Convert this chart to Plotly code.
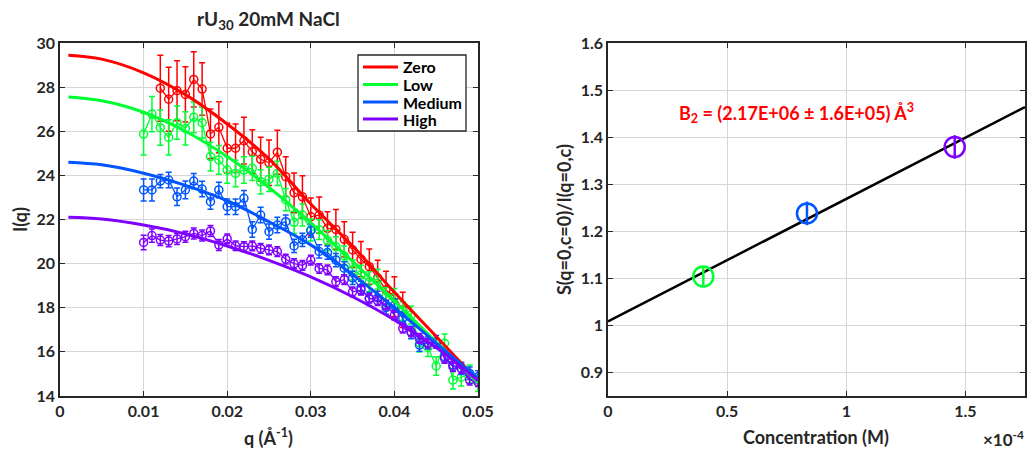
import plotly.graph_objects as go

# ---------------- Left panel data ----------------
q_data = [0.010, 0.011, 0.012, 0.013, 0.014, 0.015, 0.016, 0.017, 0.018, 0.019,
          0.020, 0.021, 0.022, 0.023, 0.024, 0.025, 0.026, 0.027, 0.028, 0.029,
          0.030, 0.031, 0.032, 0.033, 0.034, 0.035, 0.036, 0.037, 0.038, 0.039,
          0.040, 0.041, 0.042, 0.043, 0.044, 0.045, 0.046, 0.047, 0.048, 0.049, 0.050]

q_zero = [0.012, 0.013, 0.014, 0.015, 0.016, 0.017, 0.018, 0.019, 0.020, 0.021,
          0.022, 0.023, 0.024, 0.025, 0.026, 0.027, 0.028, 0.029, 0.030, 0.031,
          0.032, 0.033, 0.034, 0.035, 0.036, 0.037, 0.038, 0.039, 0.040, 0.041]
I_zero = [27.95, 27.45, 27.84, 27.67, 28.35, 27.91, 25.88, 26.18, 25.23, 25.23,
          25.57, 25.07, 24.73, 24.57, 25.05, 23.94, 23.21, 23.03, 22.12, 22.20,
          21.60, 21.55, 21.10, 20.62, 20.20, 19.86, 19.35, 18.80, 18.50, 17.90]
err_zero = [1.50, 1.45, 1.36, 1.25, 1.25, 1.19, 1.13, 1.16, 1.13, 1.10,
            1.06, 1.00, 1.00, 1.03, 1.00, 0.90, 0.90, 0.95, 0.86, 0.82,
            0.75, 0.90, 0.80, 0.80, 0.80, 0.80, 0.80, 0.85, 0.90, 0.80]

I_low = [25.87, 26.78, 26.16, 25.72, 26.39, 26.13, 26.63, 26.39, 24.85, 24.70,
         24.24, 24.09, 24.24, 24.32, 23.71, 23.82, 24.09, 22.90, 21.87, 22.20,
         21.52, 21.54, 21.05, 20.77, 20.35, 19.71, 19.48, 19.18, 19.30, 18.50,
         18.45, 17.85, 17.67, 16.41, 16.20, 15.36, 16.39, 14.72, 14.85, 15.00, 14.60]
err_low = [0.95, 0.80, 0.80, 0.80, 0.75, 0.75, 0.70, 0.70, 0.65, 0.65,
           0.60, 0.60, 0.60, 0.55, 0.55, 0.55, 0.55, 0.50, 0.50, 0.50,
           0.50, 0.45, 0.45, 0.45, 0.45, 0.45, 0.45, 0.45, 0.45, 0.42,
           0.42, 0.42, 0.41, 0.41, 0.41, 0.42, 0.42, 0.40, 0.40, 0.40, 0.40]

I_med = [23.34, 23.34, 23.74, 23.79, 23.03, 23.34, 23.74, 23.38, 22.81, 23.34,
         22.58, 22.58, 22.96, 21.55, 22.20, 21.45, 21.75, 21.90, 20.80, 21.08,
         21.50, 20.55, 20.50, 20.16, 19.79, 19.35, 18.90, 18.40, 18.45, 18.00,
         18.10, 17.52, 16.88, 16.31, 16.41, 16.46, 15.78, 15.40, 15.25, 15.03, 14.87]
err_med = [0.50, 0.50, 0.30, 0.35, 0.40, 0.40, 0.35, 0.35, 0.35, 0.35,
           0.35, 0.35, 0.35, 0.35, 0.35, 0.35, 0.35, 0.30, 0.30, 0.30,
           0.30, 0.30, 0.30, 0.30, 0.30, 0.30, 0.30, 0.30, 0.30, 0.30,
           0.30, 0.30, 0.28, 0.28, 0.28, 0.28, 0.28, 0.28, 0.28, 0.28, 0.28]

I_high = [20.96, 21.27, 21.07, 21.02, 21.12, 21.22, 21.37, 21.27, 21.48, 20.84,
          21.12, 20.81, 20.77, 20.80, 20.69, 20.62, 20.54, 20.20, 20.00, 19.92,
          20.16, 19.78, 19.72, 19.18, 19.27, 18.72, 18.80, 18.43, 18.32, 18.12,
          17.67, 17.07, 16.91, 16.61, 16.39, 16.39, 15.71, 15.33, 15.25, 14.72, 14.65]
err_high = [0.33, 0.30, 0.25, 0.25, 0.25, 0.25, 0.25, 0.25, 0.25, 0.25,
            0.22, 0.22, 0.22, 0.22, 0.22, 0.22, 0.22, 0.22, 0.22, 0.22,
            0.22, 0.22, 0.22, 0.22, 0.22, 0.22, 0.22, 0.22, 0.22, 0.22,
            0.22, 0.22, 0.22, 0.22, 0.22, 0.22, 0.22, 0.22, 0.22, 0.22, 0.22]

# fitted curves
q_fit = [0.001, 0.005, 0.010, 0.015, 0.020, 0.025, 0.030, 0.035, 0.040, 0.045, 0.050]
fit_zero = [29.45, 29.27, 28.65, 27.66, 26.33, 24.75, 22.70, 20.80, 18.70, 16.70, 14.70]
fit_low = [27.55, 27.38, 26.86, 26.00, 24.85, 23.45, 21.85, 20.10, 18.30, 16.45, 14.60]
fit_med = [24.60, 24.48, 24.10, 23.55, 22.85, 21.90, 20.85, 19.50, 18.00, 16.40, 14.80]
fit_high = [22.10, 22.02, 21.75, 21.35, 20.80, 20.15, 19.40, 18.50, 17.45, 16.20, 14.70]

series_names = ["Zero", "Low", "Medium", "High"]
series_colors = ["#FF0000", "#00FF33", "#0055FF", "#8000FF"]

# ---------------- Right panel data ----------------
conc = [0.40e-4, 0.835e-4, 1.455e-4]
s_ratio = [1.104, 1.238, 1.379]
s_err = [0.020, 0.025, 0.025]
point_colors = ["#00FF33", "#0055FF", "#8000FF"]
line_conc = [0.0, 1.75e-4]
line_ratio = [1.0085, 1.464]

conc_ticks = [0, 0.5e-4, 1.0e-4, 1.5e-4]
conc_ticktext = ["0", "0.5", "1", "1.5"]
ratio_ticks = [0.9, 1.0, 1.1, 1.2, 1.3, 1.4, 1.5, 1.6]
ratio_ticktext = ["0.9", "1", "1.1", "1.2", "1.3", "1.4", "1.5", "1.6"]
q_ticks = [0, 0.01, 0.02, 0.03, 0.04, 0.05]
q_ticktext = ["0", "0.01", "0.02", "0.03", "0.04", "0.05"]
I_ticks = [14, 16, 18, 20, 22, 24, 26, 28, 30]

FONT = "Lato"
DARK = "#262626"
W, H = 1030, 453

fig = go.Figure()

data_sets = [(q_zero, I_zero, err_zero), (q_data, I_low, err_low),
             (q_data, I_med, err_med), (q_data, I_high, err_high)]
fit_sets = [fit_zero, fit_low, fit_med, fit_high]

for (qq, ii, ee), col, nm in zip(data_sets, series_colors, series_names):
    fig.add_trace(go.Scatter(
        x=qq, y=ii, mode="lines+markers", showlegend=False, name=nm + " data",
        line=dict(color=col, width=1.3),
        marker=dict(symbol="circle-open", size=8, color=col, line=dict(width=1.5, color=col)),
        error_y=dict(type="data", array=ee, visible=True, color=col, thickness=1.5, width=3),
        xaxis="x", yaxis="y"))

for ff, col, nm in zip(fit_sets, series_colors, series_names):
    fig.add_trace(go.Scatter(
        x=q_fit, y=ff, mode="lines", name=nm, showlegend=False,
        line=dict(color=col, width=3, shape="spline"),
        xaxis="x", yaxis="y"))

fig.add_trace(go.Scatter(
    x=line_conc, y=line_ratio, mode="lines", showlegend=False,
    line=dict(color="black", width=2.5), xaxis="x2", yaxis="y2"))

for c, s, e, col in zip(conc, s_ratio, s_err, point_colors):
    fig.add_trace(go.Scatter(
        x=[c], y=[s], mode="markers", showlegend=False,
        marker=dict(symbol="circle-open", size=20, color=col, line=dict(width=2.5, color=col)),
        error_y=dict(type="data", array=[e], visible=True, color=col, thickness=2.5, width=0),
        xaxis="x2", yaxis="y2"))

L0, L1 = 60 / W, 478 / W
R0, R1 = 608 / W, 1025 / W
B, T = 1 - 396 / H, 1 - 43 / H

axis_common = dict(showline=True, linecolor=DARK, linewidth=1.5, mirror="ticks",
                   ticks="inside", ticklen=5, tickwidth=1.2, tickcolor=DARK,
                   showgrid=True, gridcolor="#d6d6d6", gridwidth=1.2, zeroline=False,
                   tickfont=dict(family=FONT, size=16, color=DARK, weight="bold"),
                   automargin=False)

fig.update_layout(
    width=W, height=H,
    margin=dict(l=0, r=0, t=0, b=0),
    paper_bgcolor="white", plot_bgcolor="white",
    font=dict(family=FONT, color=DARK),
    showlegend=False,
    xaxis=dict(domain=[L0, L1], range=[0, 0.05], tickvals=q_ticks, ticktext=q_ticktext,
               anchor="y", **axis_common),
    yaxis=dict(domain=[B, T], range=[14, 30], tickvals=I_ticks, anchor="x", **axis_common),
    xaxis2=dict(domain=[R0, R1], range=[0, 1.75e-4], tickvals=conc_ticks, ticktext=conc_ticktext,
                anchor="y2", **axis_common),
    yaxis2=dict(domain=[B, T], range=[0.85, 1.6], tickvals=ratio_ticks, ticktext=ratio_ticktext,
                anchor="x2", **axis_common),
)


def px(x, y):
    return x / W, 1 - y / H


def add_text(x, y, text, size, color=DARK, angle=0, xanchor="center"):
    xx, yy = px(x, y)
    fig.add_annotation(x=xx, y=yy, xref="paper", yref="paper", xanchor=xanchor, yanchor="middle",
                       text=text, textangle=angle, showarrow=False,
                       font=dict(family=FONT, size=size, color=color, weight="bold"))


add_text(268, 20, "rU<sub>30</sub> 20mM NaCl", 19)
add_text(268, 437, "q (Å<sup>-1</sup>)", 18)
add_text(20, 220, "I(q)", 18, angle=-90)
add_text(816, 437, "Concentration (M)", 18)
add_text(564, 220, "S(q=0,c=0)/I(q=0,c)", 18, angle=-90)
add_text(1026, 438, "×10<sup>-4</sup>", 17, xanchor="right")
add_text(796, 113, "B<sub>2</sub> = (2.17E+06 ± 1.6E+05) Å<sup>3</sup>", 18, color="#FF0000")

# legend box (drawn on the figure, matching the reference's compact legend)
lx0, ly0 = px(358, 55)
lx1, ly1 = px(466, 131)
fig.add_shape(type="rect", xref="paper", yref="paper", x0=lx0, y0=ly1, x1=lx1, y1=ly0,
              line=dict(color=DARK, width=1.3), fillcolor="white", layer="above")
leg_y = [67, 84.5, 102, 119]
for yy, col, nm in zip(leg_y, series_colors, series_names):
    a, b = px(363, yy)
    c, _ = px(398, yy)
    fig.add_shape(type="line", xref="paper", yref="paper", x0=a, y0=b, x1=c, y1=b,
                  line=dict(color=col, width=3), layer="above")
    tx, ty = px(401, yy)
    fig.add_annotation(x=tx, y=ty, xref="paper", yref="paper", xanchor="left", yanchor="middle",
                       text=nm, showarrow=False,
                       font=dict(family=FONT, size=16, color="black", weight="bold"))

fig.write_html("out.html")
